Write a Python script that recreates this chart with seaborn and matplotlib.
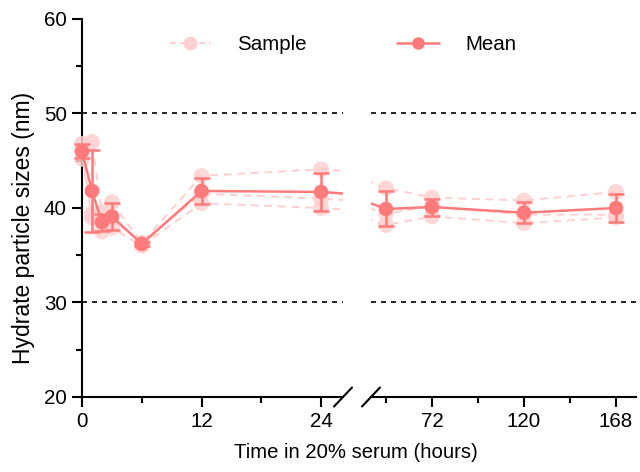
import matplotlib
matplotlib.use("Agg")
import matplotlib.pyplot as plt
from matplotlib.lines import Line2D
from matplotlib.ticker import FixedLocator
import seaborn as sns
import pandas as pd

# time points (hours)
hours = [0, 1, 2, 3, 6, 12, 24, 48, 72, 120, 168]

# individual replicates
sample_1 = [46.8, 47.0, 39.5, 40.6, 36.3, 43.4, 44.1, 42.1, 41.1, 40.8, 41.7]
sample_2 = [46.0, 39.4, 38.5, 38.9, 36.3, 41.5, 41.0, 39.4, 40.2, 39.3, 39.3]
sample_3 = [45.2, 39.0, 37.5, 37.9, 36.0, 40.5, 40.0, 38.2, 39.1, 38.4, 39.0]

# mean and SD
mean_vals = [46.0, 41.8, 38.5, 39.1, 36.2, 41.8, 41.7, 39.9, 40.1, 39.5, 40.0]
sd_vals = [0.75, 4.3, 0.9, 1.4, 0.2, 1.4, 2.0, 1.85, 0.9, 1.1, 1.5]

MEAN_COLOR = "#FF7B7B"
SAMPLE_COLOR = "#FFD0D0"

sns.set_style("white")
plt.rcParams["font.family"] = ["Liberation Sans", "DejaVu Sans"]
plt.rcParams["text.color"] = "black"
plt.rcParams["axes.labelcolor"] = "black"
plt.rcParams["xtick.color"] = "black"
plt.rcParams["ytick.color"] = "black"

samples = pd.concat([
    pd.DataFrame({"hours": hours, "size": s, "rep": name})
    for name, s in [("s1", sample_1), ("s2", sample_2), ("s3", sample_3)]
])
means = pd.DataFrame({"hours": hours, "size": mean_vals, "sd": sd_vals})

fig = plt.figure(figsize=(6.4, 4.72), dpi=100)
ax1 = fig.add_axes([82 / 640, 75 / 472, 261 / 640, 378 / 472])
ax2 = fig.add_axes([371 / 640, 75 / 472, 265 / 640, 378 / 472])

segments = [(ax1, (0, 26.2)), (ax2, (40.2, 178.4))]

for ax, (lo, hi) in segments:
    for ref in (30, 50):
        ax.axhline(ref, color="black", lw=1.2, ls=(0, (3, 3)), zorder=1)
    sns.lineplot(data=samples, x="hours", y="size", units="rep", estimator=None,
                 color=SAMPLE_COLOR, lw=1.4, dashes=False, ls=(0, (4, 3)),
                 ax=ax, zorder=2)
    sns.lineplot(data=means, x="hours", y="size", color=MEAN_COLOR, lw=1.8,
                 ax=ax, zorder=4)
    inside = samples[(samples.hours >= lo) & (samples.hours <= hi)]
    sns.scatterplot(data=inside, x="hours", y="size", color=SAMPLE_COLOR,
                    s=130, edgecolor="none", alpha=0.85, ax=ax, zorder=3,
                    clip_on=False, legend=False)
    m = means[(means.hours >= lo) & (means.hours <= hi)]
    ax.errorbar(m.hours, m["size"], yerr=m.sd, fmt="none", ecolor=MEAN_COLOR,
                elinewidth=1.8, capsize=6, capthick=1.8, zorder=5, clip_on=False)
    sns.scatterplot(data=m, x="hours", y="size", color=MEAN_COLOR, s=110,
                    edgecolor="none", ax=ax, zorder=6, clip_on=False, legend=False)
    ax.set_xlim(lo, hi)
    ax.set_ylim(20, 60)
    ax.set_xlabel("")
    ax.set_ylabel("")
    for side in ("top", "right"):
        ax.spines[side].set_visible(False)
    ax.spines["bottom"].set_linewidth(1.5)
    ax.spines["left"].set_linewidth(1.5)
    ax.spines["bottom"].set_color("black")
    ax.spines["left"].set_color("black")
    ax.tick_params(axis="both", which="major", direction="out", length=7,
                   width=1.5, labelsize=14.8, color="black", labelcolor="black",
                   pad=4, bottom=True, left=True)
    ax.tick_params(axis="both", which="minor", direction="out", length=4,
                   width=1.5, color="black", bottom=True, left=True)

ax1.xaxis.set_major_locator(FixedLocator([0, 12, 24]))
ax1.xaxis.set_minor_locator(FixedLocator([6, 18]))
ax1.yaxis.set_major_locator(FixedLocator([20, 30, 40, 50, 60]))
ax1.yaxis.set_minor_locator(FixedLocator([25, 35, 45, 55]))

ax2.xaxis.set_major_locator(FixedLocator([72, 120, 168]))
ax2.xaxis.set_minor_locator(FixedLocator([48, 96, 144]))
ax2.spines["left"].set_visible(False)
ax2.tick_params(axis="y", which="both", left=False, labelleft=False)

# axis break marks
d = dict(color="black", lw=1.5, clip_on=False)
ax1.plot([1 - 9 / 261, 1 + 9 / 261], [-9.5 / 378, 9.5 / 378],
         transform=ax1.transAxes, **d)
ax2.plot([-9 / 265, 9 / 265], [-9.5 / 378, 9.5 / 378],
         transform=ax2.transAxes, **d)

fig.text(24 / 640, 1 - 228 / 472, "Hydrate particle sizes (nm)", fontsize=16.5,
         rotation=90, ha="center", va="center")
fig.text(356 / 640, 1 - 452 / 472, "Time in 20% serum (hours)", fontsize=14.6,
         ha="center", va="center")

handles = [
    Line2D([], [], color=SAMPLE_COLOR, lw=1.4, ls=(0, (3, 2)), marker="o",
           markersize=10, markeredgecolor="none"),
    Line2D([], [], color=MEAN_COLOR, lw=1.8, marker="o", markersize=9,
           markeredgecolor="none"),
]
fig.legend(handles, ["Sample", "Mean"], loc="center",
           bbox_to_anchor=(343 / 640, 1 - 45 / 472), ncol=2, frameon=False,
           fontsize=14.8, handlelength=2.0, handletextpad=1.3, columnspacing=4.4)

fig.savefig("out.png", dpi=100)
